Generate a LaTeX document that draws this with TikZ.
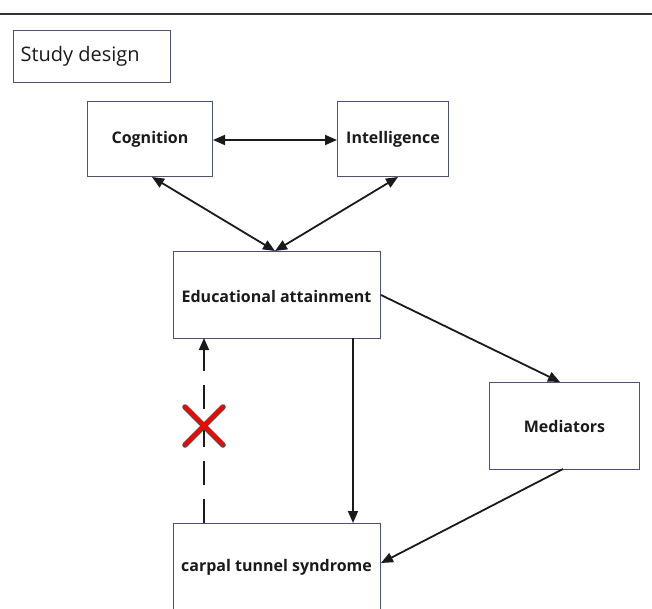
\documentclass[tikz,border=0pt]{standalone}
\usepackage{fontspec}
\setmainfont{Open Sans}
\usetikzlibrary{arrows.meta}
\definecolor{boxline}{HTML}{4B5278}
\definecolor{arr}{HTML}{1A1A1A}
\begin{document}
\begin{tikzpicture}[x=1pt,y=-1pt,
  box/.style={draw=boxline,line width=1pt,fill=white,inner sep=0pt},
  lbl/.style={font=\bfseries\fontsize{16}{19}\selectfont,text=arr},
  conn/.style={draw=arr,line width=1.8pt,-{Triangle[length=12pt,width=10pt]}},
  biconn/.style={draw=arr,line width=1.8pt,{Triangle[length=12pt,width=10pt]}-{Triangle[length=12pt,width=10pt]}}]
\useasboundingbox (0,0) rectangle (652,608);
\draw[line width=2.5pt,color=black!80] (0,14) -- (652,14);
% study design
\node[box,minimum width=157pt,minimum height=52pt,anchor=north west] (sd) at (13,30) {};
\node[anchor=west,font=\fontsize{20}{24}\selectfont,text=arr] (sdt) at (17,56) {Study design};
% boxes
\node[box,minimum width=125pt,minimum height=75pt,anchor=north west] (cog) at (87,101) {};
\node[lbl] (cogt) at (cog.center) {Cognition};
\node[box,minimum width=111pt,minimum height=75pt,anchor=north west] (int) at (337,101) {};
\node[lbl] (intt) at (int.center) {Intelligence};
\node[box,minimum width=207pt,minimum height=87pt,anchor=north west] (edu) at (173,251) {};
\node[lbl] (edut) at (276.5,296) {Educational attainment};
\node[box,minimum width=150pt,minimum height=87pt,anchor=north west] (med) at (489,382) {};
\node[lbl] (medt) at (med.center) {Mediators};
\node[box,minimum width=207pt,minimum height=90pt,anchor=north west] (cts) at (173,523) {};
\node[lbl] (ctst) at (276.5,567) {carpal tunnel syndrome};
% connectors
\draw[biconn] (cog.east |- 0,140) -- (int.west |- 0,140);
\coordinate (eduin) at (275,251);
\draw[biconn] (152,177) -- (eduin);
\draw[biconn] (398,177) -- (eduin);
\draw[conn] (edu.east |- 0,295) -- (560,382);
\draw[conn] (563,469) -- (cts.east |- 0,563);
\draw[conn] (353,338) -- (353,523);
\draw[conn,dash pattern=on 24pt off 14pt] (204,523) -- (204,338);
% red cross
\node (x) at (204,426) {};
\begin{scope}[line cap=round]
\draw[line width=5.5pt,color=black!70] (185,407) -- (223,445) (185,445) -- (223,407);
\draw[line width=3.6pt,color=red] (185,407) -- (223,445) (185,445) -- (223,407);
\end{scope}
\end{tikzpicture}
\end{document}
